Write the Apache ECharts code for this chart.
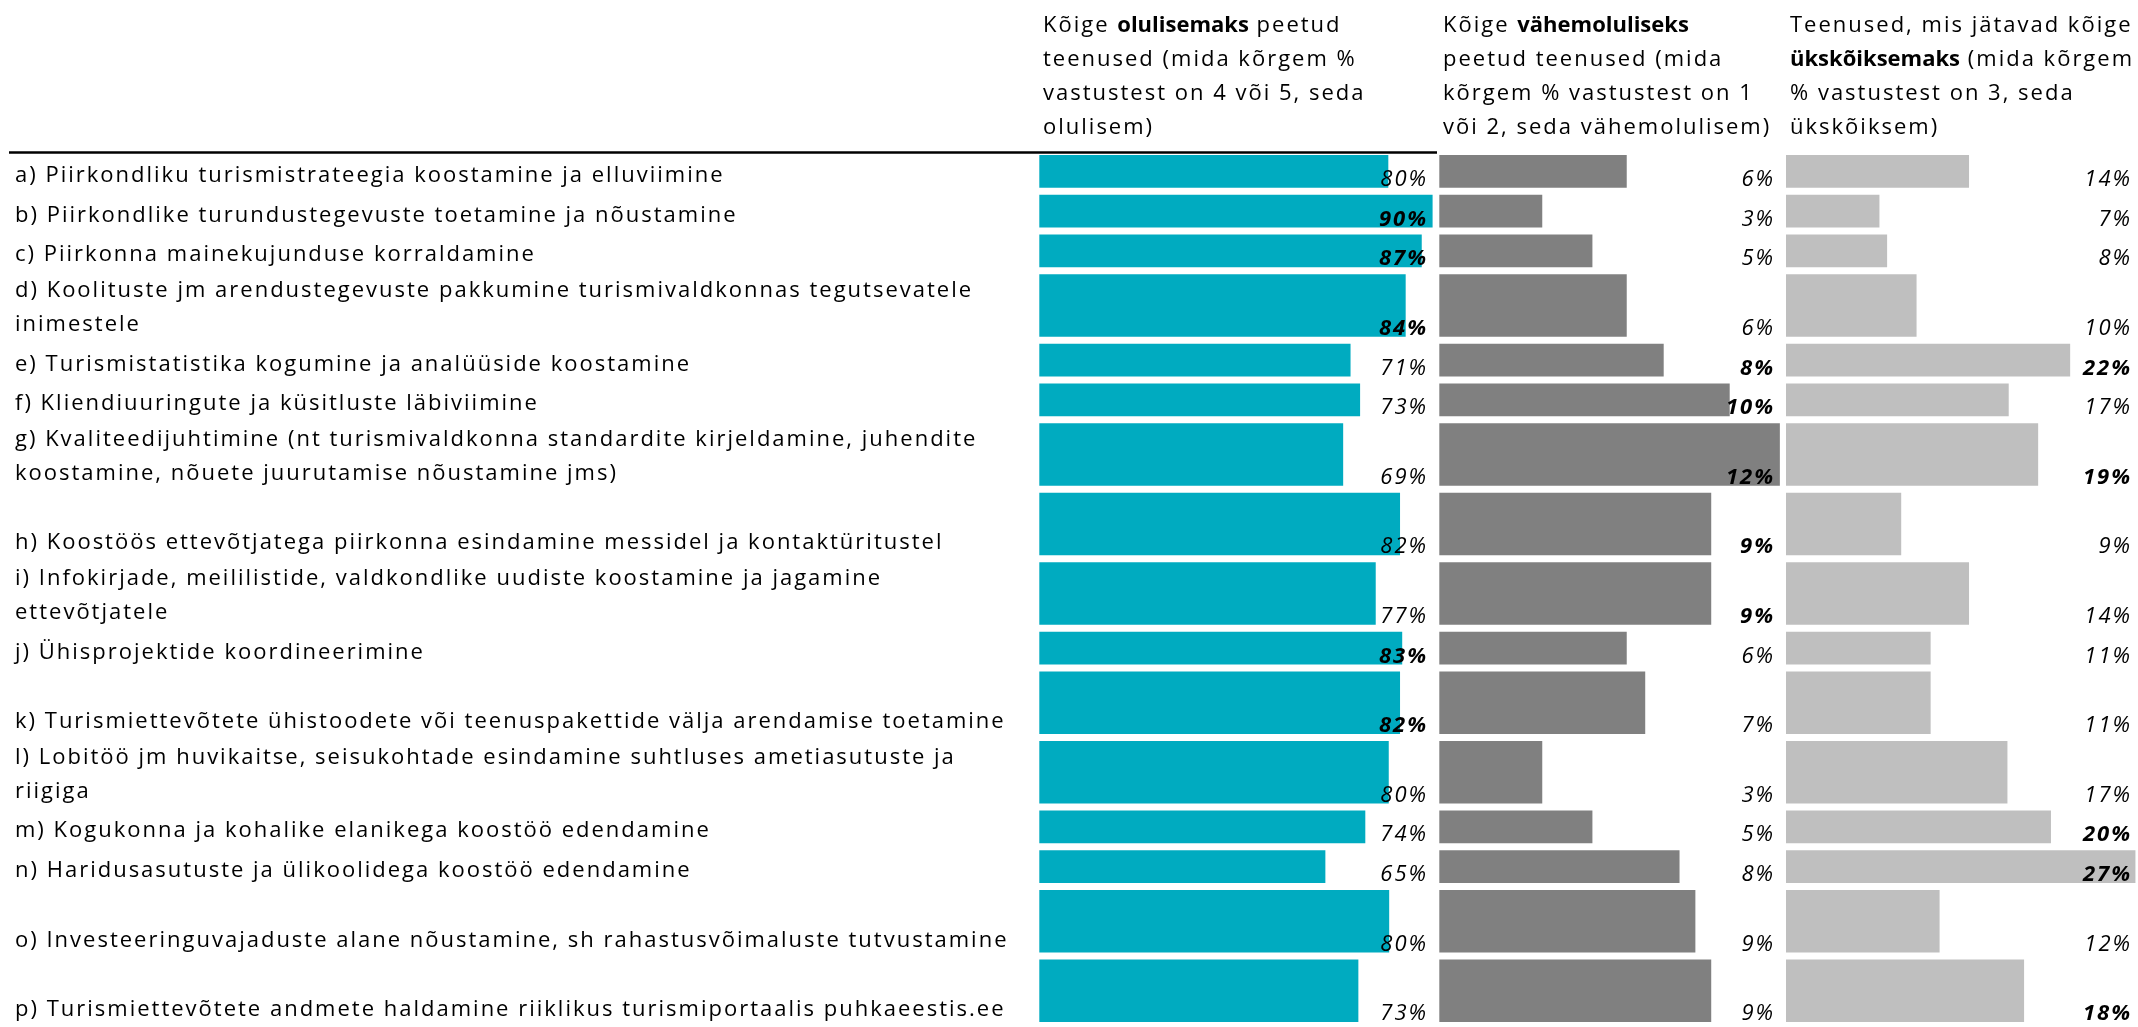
<!DOCTYPE html>
<html><head><meta charset="utf-8">
<script src="https://cdn.jsdelivr.net/npm/echarts@6/dist/echarts.min.js"></script>
<style>html,body{margin:0;padding:0;background:#fff}#c{width:2138px;height:1027px}</style>
</head><body><div id="c"></div>
<script>
// Excel-like text rendering: widen letter spacing on every canvas text (measure + draw)
(function () {
  const proto = window.CanvasRenderingContext2D && CanvasRenderingContext2D.prototype;
  const desc = proto && Object.getOwnPropertyDescriptor(proto, 'font');
  if (desc && desc.set && 'letterSpacing' in proto) {
    Object.defineProperty(proto, 'font', {
      configurable: true,
      get() { return desc.get.call(this); },
      set(v) {
        desc.set.call(this, v);
        const s = String(v);
        const bold = /bold|[6-9]00/.test(s), italic = /italic/.test(s);
        this.letterSpacing = (bold && !italic) ? '0px' : '2px';
      }
    });
  }
})();

// ---------- DATA ----------
const categories = [
  'a) Piirkondliku turismistrateegia koostamine ja elluviimine',
  'b) Piirkondlike turundustegevuste toetamine ja nõustamine',
  'c) Piirkonna mainekujunduse korraldamine',
  'd) Koolituste jm arendustegevuste pakkumine turismivaldkonnas tegutsevatele\ninimestele',
  'e) Turismistatistika kogumine ja analüüside koostamine',
  'f) Kliendiuuringute ja küsitluste läbiviimine',
  'g) Kvaliteedijuhtimine (nt turismivaldkonna standardite kirjeldamine, juhendite\nkoostamine, nõuete juurutamise nõustamine jms)',
  'h) Koostöös ettevõtjatega piirkonna esindamine messidel ja kontaktüritustel',
  'i) Infokirjade, meililistide, valdkondlike uudiste koostamine ja jagamine\nettevõtjatele',
  'j) Ühisprojektide koordineerimine',
  'k) Turismiettevõtete ühistoodete või teenuspakettide välja arendamise toetamine',
  'l) Lobitöö jm huvikaitse, seisukohtade esindamine suhtluses ametiasutuste ja\nriigiga',
  'm) Kogukonna ja kohalike elanikega koostöö edendamine',
  'n) Haridusasutuste ja ülikoolidega koostöö edendamine',
  'o) Investeeringuvajaduste alane nõustamine, sh rahastusvõimaluste tutvustamine',
  'p) Turismiettevõtete andmete haldamine riiklikus turismiportaalis puhkaeestis.ee'
];
// % of answers 4 or 5 (most important)
const mostImportant  = [79.7, 89.9, 87.4, 83.7, 71.0, 73.2, 69.3, 82.4, 76.8, 82.9, 82.4, 79.8, 74.4, 65.2, 79.9, 72.8];
// % of answers 1 or 2 (least important)
const leastImportant = [6.2, 3.0, 4.9, 6.2, 7.6, 10.1, 12.0, 9.4, 9.4, 6.2, 6.9, 3.0, 4.9, 8.2, 8.8, 9.4];
// % of answers 3 (indifferent)
const indifferent    = [14.0, 7.0, 7.6, 9.9, 21.9, 17.1, 19.4, 8.7, 14.0, 11.0, 11.0, 17.0, 20.4, 27.0, 11.7, 18.3];
// emphasised (bold) values per column
const boldMost   = [1, 2, 3, 9, 10];
const boldLeast  = [4, 5, 6, 7, 8];
const boldIndiff = [4, 6, 12, 13, 15];

// ---------- LAYOUT ----------
const rowHeights = [4,4,4,7,4,4,7,7,7,4,7,7,4,4,7,7]; // row heights in 10px units (Excel rows)
const rowStarts = [];
rowHeights.reduce((acc, h, i) => { rowStarts[i] = acc; return acc + h; }, 0);
const totalUnits = rowHeights.reduce((a, b) => a + b, 0);
const UNIT = 10, TOP = 153;
const FONT = '"Open Sans", "Noto Sans", sans-serif';

const cols = [
  { data: mostImportant,  bold: boldMost,   color: '#00ABC0', left: 1039.3, min: -0.7, max: 90, ppu: 4.341, labelRight: 1428 },
  { data: leastImportant, bold: boldLeast,  color: '#808080', left: 1439.3, min: -0.9, max: 12, ppu: 26.4,  labelRight: 1775 },
  { data: indifferent,    bold: boldIndiff, color: '#BFBFBF', left: 1786,   min: -0.3, max: 27, ppu: 12.8,  labelRight: 2132 }
];

const grids = [], xAxes = [], yAxes = [], series = [];
cols.forEach((c, ci) => {
  grids.push({ left: c.left, top: TOP, width: (c.max - c.min) * c.ppu, height: totalUnits * UNIT, containLabel: false });
  xAxes.push({ gridIndex: ci, type: 'value', min: c.min, max: c.max, show: false, splitLine: { show: false } });
  yAxes.push({ gridIndex: ci, type: 'value', min: 0, max: totalUnits, inverse: true, show: false, splitLine: { show: false } });
  series.push({
    type: 'custom',
    xAxisIndex: ci, yAxisIndex: ci,
    data: c.data.map((v, i) => [v, i]),
    renderItem: function (params, api) {
      const i = api.value(1);
      const v = api.value(0);
      const top = rowStarts[i], bottom = rowStarts[i] + rowHeights[i];
      const p0 = api.coord([c.min, top + 0.2]);
      const p1 = api.coord([v, bottom - 0.5]);
      const isBold = c.bold.indexOf(i) >= 0;
      return {
        type: 'group',
        children: [
          { type: 'rect', shape: { x: p0[0], y: p0[1], width: p1[0] - p0[0], height: p1[1] - p0[1] },
            style: { fill: c.color } },
          { type: 'text', z2: 10,
            style: { text: Math.round(v) + '%', x: c.labelRight, y: api.coord([0, bottom])[1] - 13,
              align: 'right', verticalAlign: 'middle',
              font: (isBold ? 'italic bold ' : 'italic ') + '22px ' + FONT, fill: '#000' } }
        ]
      };
    }
  });
});

// category labels (left column)
series.push({
  type: 'custom',
  xAxisIndex: 0, yAxisIndex: 0,
  data: categories.map((t, i) => [0, i]),
  renderItem: function (params, api) {
    const i = api.value(1);
    const bottom = rowStarts[i] + rowHeights[i];
    return {
      type: 'text',
      style: { text: categories[i], x: 15, y: api.coord([0, bottom])[1],
        align: 'left', verticalAlign: 'bottom', lineHeight: 34,
        font: '22px ' + FONT, fill: '#000' }
    };
  }
});

const rich = {
  n: { fontFamily: FONT, fontSize: 22, lineHeight: 34, color: '#000', fontWeight: 'normal' },
  b: { fontFamily: FONT, fontSize: 22, lineHeight: 34, color: '#000', fontWeight: 'bold' }
};
const headers = [
  { left: 1043, text: '{n|Kõige }{b|olulisemaks}{n| peetud}\n{n|teenused (mida kõrgem %}\n{n|vastustest on 4 või 5, seda}\n{n|olulisem)}' },
  { left: 1443, text: '{n|Kõige }{b|vähemoluliseks}\n{n|peetud teenused (mida}\n{n|kõrgem % vastustest on 1}\n{n|või 2, seda vähemolulisem)}' },
  { left: 1790, text: '{n|Teenused, mis jätavad kõige}\n{b|ükskõiksemaks}{n| (mida kõrgem}\n{n|% vastustest on 3, seda}\n{n|ükskõiksem)}' }
];

const chart = echarts.init(document.getElementById('c'), null, { renderer: 'canvas' });
chart.setOption({
  backgroundColor: '#fff',
  animation: false,
  title: headers.map(h => ({ left: h.left, top: 9, padding: 0, text: h.text,
    textStyle: { rich: rich, fontFamily: FONT, fontWeight: 'normal', fontSize: 22, lineHeight: 34 } })),
  grid: grids,
  xAxis: xAxes,
  yAxis: yAxes,
  series: series,
  graphic: [
    { type: 'line', shape: { x1: 9, y1: 152.5, x2: 1437, y2: 152.5 }, style: { stroke: '#000', lineWidth: 2.5 } }
  ]
});
</script>
</body></html>
